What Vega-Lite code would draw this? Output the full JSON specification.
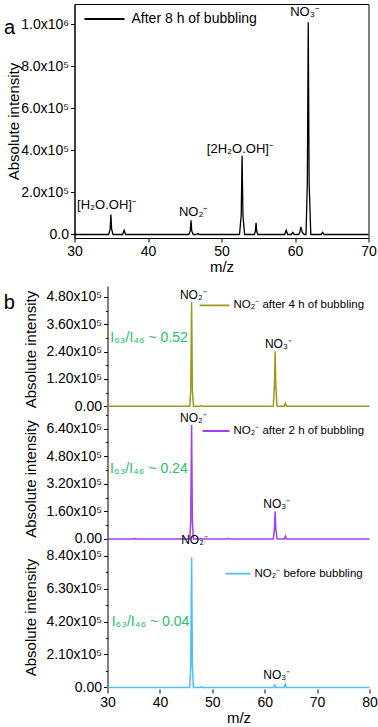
{
  "$schema": "https://vega.github.io/schema/vega-lite/v6.json",
  "padding": {"left": 2.5, "top": 3, "right": 0, "bottom": 0},
  "config": {
    "font": "Liberation Sans",
    "view": {"stroke": null},
    "axis": {"labelFont": "Liberation Sans", "titleFont": "Liberation Sans", "labelFontSize": 14, "titleFontSize": 15, "titleFontWeight": "normal", "labelColor": "#000", "titleColor": "#000", "domainColor": "#000", "tickColor": "#000", "grid": false, "tickSize": 4, "labelPadding": 2, "labelFlush": false, "labelOverlap": false, "labelBound": false},
    "legend": {"labelFont": "Liberation Sans", "labelColor": "#000", "padding": 0, "symbolType": "stroke", "clipHeight": 14},
    "text": {"font": "Liberation Sans", "color": "#000"}
  },
  "datasets": {
    "a": [
      {"mz": 30, "I": 0}, {"mz": 34.65, "I": 0}, {"mz": 34.85, "I": 25000}, {"mz": 34.95, "I": 95000}, {"mz": 35.05, "I": 25000}, {"mz": 35.25, "I": 0},
      {"mz": 36.55, "I": 0}, {"mz": 36.75, "I": 20000}, {"mz": 36.95, "I": 0},
      {"mz": 45.55, "I": 0}, {"mz": 45.75, "I": 17000}, {"mz": 45.85, "I": 68000}, {"mz": 45.95, "I": 17000}, {"mz": 46.15, "I": 0},
      {"mz": 46.6, "I": 0}, {"mz": 46.8, "I": 5000}, {"mz": 47.0, "I": 0},
      {"mz": 52.45, "I": 0}, {"mz": 52.68, "I": 90000}, {"mz": 52.8, "I": 374000}, {"mz": 52.92, "I": 90000}, {"mz": 53.15, "I": 0},
      {"mz": 54.45, "I": 0}, {"mz": 54.6, "I": 14000}, {"mz": 54.7, "I": 55000}, {"mz": 54.8, "I": 14000}, {"mz": 54.95, "I": 0},
      {"mz": 58.6, "I": 0}, {"mz": 58.8, "I": 20000}, {"mz": 59.0, "I": 0},
      {"mz": 59.5, "I": 0}, {"mz": 59.7, "I": 10000}, {"mz": 59.9, "I": 0},
      {"mz": 60.5, "I": 0}, {"mz": 60.65, "I": 10000}, {"mz": 60.8, "I": 36000}, {"mz": 61.0, "I": 10000}, {"mz": 61.25, "I": 0},
      {"mz": 61.5, "I": 0}, {"mz": 61.68, "I": 250000}, {"mz": 61.8, "I": 1010000}, {"mz": 61.92, "I": 250000}, {"mz": 62.15, "I": 0},
      {"mz": 63.55, "I": 0}, {"mz": 63.75, "I": 10000}, {"mz": 63.95, "I": 0},
      {"mz": 70, "I": 0}
    ],
    "b4": [
      {"mz": 30, "I": 0}, {"mz": 45.7, "I": 0}, {"mz": 45.88, "I": 70000}, {"mz": 46.05, "I": 458000}, {"mz": 46.2, "I": 70000}, {"mz": 46.4, "I": 0},
      {"mz": 47.6, "I": 0}, {"mz": 47.8, "I": 3000}, {"mz": 48.0, "I": 0},
      {"mz": 61.65, "I": 0}, {"mz": 61.85, "I": 90000}, {"mz": 62.0, "I": 242000}, {"mz": 62.12, "I": 90000}, {"mz": 62.35, "I": 0},
      {"mz": 63.75, "I": 0}, {"mz": 63.95, "I": 13000}, {"mz": 64.15, "I": 0},
      {"mz": 80, "I": 0}
    ],
    "b2": [
      {"mz": 30, "I": 0}, {"mz": 35.0, "I": 0}, {"mz": 35.2, "I": 3000}, {"mz": 35.4, "I": 0},
      {"mz": 45.7, "I": 0}, {"mz": 45.88, "I": 100000}, {"mz": 46.05, "I": 662000}, {"mz": 46.2, "I": 100000}, {"mz": 46.4, "I": 0},
      {"mz": 47.6, "I": 0}, {"mz": 47.8, "I": 3000}, {"mz": 48.0, "I": 0},
      {"mz": 52.8, "I": 0}, {"mz": 53.0, "I": 3000}, {"mz": 53.2, "I": 0},
      {"mz": 61.65, "I": 0}, {"mz": 61.85, "I": 60000}, {"mz": 62.0, "I": 161000}, {"mz": 62.12, "I": 60000}, {"mz": 62.35, "I": 0},
      {"mz": 63.75, "I": 0}, {"mz": 63.95, "I": 16000}, {"mz": 64.15, "I": 0},
      {"mz": 80, "I": 0}
    ],
    "b0": [
      {"mz": 30, "I": 0}, {"mz": 45.7, "I": 0}, {"mz": 45.88, "I": 130000}, {"mz": 46.05, "I": 830000}, {"mz": 46.2, "I": 130000}, {"mz": 46.4, "I": 0},
      {"mz": 47.6, "I": 0}, {"mz": 47.8, "I": 4000}, {"mz": 48.0, "I": 0},
      {"mz": 61.7, "I": 0}, {"mz": 61.9, "I": 15000}, {"mz": 62.1, "I": 0},
      {"mz": 63.7, "I": 0}, {"mz": 63.9, "I": 21000}, {"mz": 64.1, "I": 0},
      {"mz": 80, "I": 0}
    ]
  },
  "resolve": {"scale": {"color": "independent"}, "legend": {"color": "independent"}},
  "spacing": 11,
  "vconcat": [
    {
      "width": 294,
      "height": 234,
      "view": {"stroke": "#000", "strokeWidth": 1},
      "layer": [
        {
          "data": {"name": "a"},
          "mark": {"type": "line", "strokeWidth": 1.3},
          "encoding": {
            "x": {"field": "mz", "type": "quantitative", "scale": {"domain": [30, 70], "nice": false, "zero": false},
              "axis": {"title": "m/z", "values": [30, 35, 40, 45, 50, 55, 60, 65, 70], "labelExpr": "datum.value % 10 == 0 ? datum.label : ''", "labelOverlap": false, "tickSize": {"condition": {"test": "datum.value % 10 != 0", "value": 2}, "value": 4}, "titlePadding": 1}},
            "y": {"field": "I", "type": "quantitative", "scale": {"domain": [-16700, 1096600], "nice": false, "zero": false},
              "axis": {"title": "Absolute intensity", "titleX": -61, "titleBaseline": "middle", "values": [0, 100000, 200000, 300000, 400000, 500000, 600000, 700000, 800000, 900000, 1000000], "labelExpr": "datum.value == 0 ? '0.0' : (datum.value % 200000 != 0 ? '' : (datum.value >= 1000000 ? format(datum.value / 1000000, '.1f') + 'x10⁶' : format(datum.value / 100000, '.1f') + 'x10⁵'))", "labelOverlap": false, "tickSize": {"condition": {"test": "datum.value % 200000 != 0", "value": 2}, "value": 4}}},
            "color": {"datum": "After 8 h of bubbling", "scale": {"range": ["#000000"]},
              "legend": {"title": null, "orient": "none", "legendX": 9, "legendY": 8, "symbolSize": 1600, "symbolStrokeWidth": 1.8, "labelOffset": 6, "labelFontSize": 14}}
          }
        },
        {
          "data": {"values": [
            {"mz": 61.3, "I": 1040000, "t": "NO₃⁻"},
            {"mz": 52.5, "I": 389000, "t": "[2H₂O.OH]⁻"},
            {"mz": 46.15, "I": 88000, "t": "NO₂⁻"},
            {"mz": 34.35, "I": 120000, "t": "[H₂O.OH]⁻"}
          ]},
          "mark": {"type": "text", "fontSize": 13, "align": "center", "baseline": "alphabetic"},
          "encoding": {"x": {"field": "mz", "type": "quantitative"}, "y": {"field": "I", "type": "quantitative"}, "text": {"field": "t"}}
        },
        {
          "data": {"values": [{"mz": 21.16, "I": 954000, "t": "a"}]},
          "mark": {"type": "text", "fontSize": 20, "align": "center", "baseline": "alphabetic"},
          "encoding": {"x": {"field": "mz", "type": "quantitative"}, "y": {"field": "I", "type": "quantitative"}, "text": {"field": "t"}}
        }
      ]
    },
    {
      "spacing": 0,
      "bounds": "flush",
      "resolve": {"scale": {"color": "independent"}, "legend": {"color": "independent"}},
      "vconcat": [
        {
          "width": 295,
          "height": 126,
          "resolve": {"axis": {"y": "independent"}},
          "layer": [
            {
              "data": {"name": "b4"},
              "mark": {"type": "line", "strokeWidth": 1.5},
              "encoding": {
                "x": {"field": "mz", "type": "quantitative", "scale": {"domain": [23.7, 80], "nice": false, "zero": false}, "axis": null},
                "y": {"field": "I", "type": "quantitative", "scale": {"domain": [-25000, 528000], "nice": false, "zero": false},
                  "axis": {"orient": "left", "offset": -33, "title": "Absolute intensity", "titleX": -77, "titleBaseline": "middle", "values": [0, 120000, 240000, 360000, 480000], "labelExpr": "datum.value == 0 ? '0.00' : format(datum.value / 100000, '.2f') + 'x10⁵'", "labelOverlap": false}},
                "color": {"datum": "NO₂⁻ after 4 h of bubbling", "scale": {"range": ["#9b9a1e"]},
                  "legend": {"title": null, "orient": "none", "legendX": 124, "legendY": 12.3, "symbolSize": 900, "symbolStrokeWidth": 1.8, "labelOffset": 3, "labelFontSize": 11.5}}
              }
            },
            {"mark": {"type": "rule", "color": "#000", "strokeWidth": 1}, "encoding": {"x": {"datum": 80}}},
            {"mark": {"type": "rule", "color": "#000", "strokeWidth": 1}, "encoding": {"y": {"datum": 528000, "axis": null}, "x": {"datum": 30}, "x2": {"datum": 80}}},
            {
              "data": {"values": [
                {"mz": 46.37, "I": 473000, "t": "NO₂⁻"},
                {"mz": 62.6, "I": 256000, "t": "NO₃⁻"}
              ]},
              "mark": {"type": "text", "fontSize": 12, "align": "center", "baseline": "alphabetic"},
              "encoding": {"x": {"field": "mz", "type": "quantitative"},
                "y": {"field": "I", "type": "quantitative", "axis": {"orient": "left", "offset": -33, "values": [60000, 180000, 300000, 420000], "labels": false, "domain": false, "tickSize": 2, "title": null}},
                "text": {"field": "t"}}
            },
            {
              "data": {"values": [{"mz": 37.93, "I": 282000, "t": "I₆₃/I₄₆ ~ 0.52"}]},
              "mark": {"type": "text", "fontSize": 14, "align": "center", "baseline": "alphabetic", "color": "#26c06a"},
              "encoding": {"x": {"field": "mz", "type": "quantitative"}, "y": {"field": "I", "type": "quantitative", "axis": null}, "text": {"field": "t"}}
            },
            {
              "data": {"values": [{"mz": 11.27, "I": 429000, "t": "b"}]},
              "mark": {"type": "text", "fontSize": 20, "align": "center", "baseline": "alphabetic"},
              "encoding": {"x": {"field": "mz", "type": "quantitative"}, "y": {"field": "I", "type": "quantitative", "axis": null}, "text": {"field": "t"}}
            }
          ]
        },
        {
          "width": 295,
          "height": 133,
          "resolve": {"axis": {"y": "independent"}},
          "layer": [
            {
              "data": {"name": "b2"},
              "mark": {"type": "line", "strokeWidth": 1.5},
              "encoding": {
                "x": {"field": "mz", "type": "quantitative", "scale": {"domain": [23.7, 80], "nice": false, "zero": false}, "axis": null},
                "y": {"field": "I", "type": "quantitative", "scale": {"domain": [-35000, 737000], "nice": false, "zero": false},
                  "axis": {"orient": "left", "offset": -33, "title": "Absolute intensity", "titleX": -77, "titleBaseline": "middle", "values": [0, 160000, 320000, 480000, 640000], "labelExpr": "datum.value == 0 ? '0.00' : format(datum.value / 100000, '.2f') + 'x10⁵'", "labelOverlap": false}},
                "color": {"datum": "NO₂⁻ after 2 h of bubbling", "scale": {"range": ["#a040f0"]},
                  "legend": {"title": null, "orient": "none", "legendX": 127, "legendY": 12, "symbolSize": 729, "symbolStrokeWidth": 1.8, "labelOffset": 3, "labelFontSize": 11.5}}
              }
            },
            {"mark": {"type": "rule", "color": "#000", "strokeWidth": 1}, "encoding": {"x": {"datum": 80}}},
            {
              "data": {"values": [
                {"mz": 46.4, "I": 679000, "t": "NO₂⁻"},
                {"mz": 62.3, "I": 180000, "t": "NO₃⁻"}
              ]},
              "mark": {"type": "text", "fontSize": 12, "align": "center", "baseline": "alphabetic"},
              "encoding": {"x": {"field": "mz", "type": "quantitative"},
                "y": {"field": "I", "type": "quantitative", "axis": {"orient": "left", "offset": -33, "values": [80000, 240000, 400000, 560000, 720000], "labels": false, "domain": false, "tickSize": 2, "title": null}},
                "text": {"field": "t"}}
            },
            {
              "data": {"values": [{"mz": 37.9, "I": 385000, "t": "I₆₃/I₄₆ ~ 0.24"}]},
              "mark": {"type": "text", "fontSize": 14, "align": "center", "baseline": "alphabetic", "color": "#26c06a"},
              "encoding": {"x": {"field": "mz", "type": "quantitative"}, "y": {"field": "I", "type": "quantitative", "axis": null}, "text": {"field": "t"}}
            }
          ]
        },
        {
          "width": 295,
          "height": 144,
          "resolve": {"axis": {"y": "independent"}},
          "layer": [
            {
              "data": {"name": "b0"},
              "mark": {"type": "line", "strokeWidth": 1.5},
              "encoding": {
                "x": {"field": "mz", "type": "quantitative", "scale": {"domain": [23.7, 80], "nice": false, "zero": false},
                  "axis": {"title": "m/z", "titleX": 164, "domain": false, "values": [30, 35, 40, 45, 50, 55, 60, 65, 70, 75, 80], "labelExpr": "datum.value % 10 == 0 ? datum.label : ''", "labelOverlap": false, "tickSize": {"condition": {"test": "datum.value % 10 != 0", "value": 2}, "value": 4}, "titlePadding": 1}},
                "y": {"field": "I", "type": "quantitative", "scale": {"domain": [-10000, 908000], "nice": false, "zero": false},
                  "axis": {"orient": "left", "offset": -33, "title": "Absolute intensity", "titleX": -77, "titleBaseline": "middle", "values": [0, 210000, 420000, 630000, 840000], "labelExpr": "datum.value == 0 ? '0.00' : format(datum.value / 100000, '.2f') + 'x10⁵'", "labelOverlap": false}},
                "color": {"datum": "NO₂⁻ before bubbling", "scale": {"range": ["#4cc0f0"]},
                  "legend": {"title": null, "orient": "none", "legendX": 150, "legendY": 21.7, "symbolSize": 625, "symbolStrokeWidth": 1.8, "labelOffset": 3, "labelFontSize": 11.5}}
              }
            },
            {"mark": {"type": "rule", "color": "#000", "strokeWidth": 1}, "encoding": {"x": {"datum": 80}}},
            {"mark": {"type": "rule", "color": "#000", "strokeWidth": 1}, "encoding": {"y": {"datum": -10000, "axis": null}, "x": {"datum": 30}, "x2": {"datum": 80}}},
            {
              "data": {"values": [
                {"mz": 46.6, "I": 917000, "t": "NO₂⁻"},
                {"mz": 62.3, "I": 53000, "t": "NO₃⁻"}
              ]},
              "mark": {"type": "text", "fontSize": 12, "align": "center", "baseline": "alphabetic"},
              "encoding": {"x": {"field": "mz", "type": "quantitative"},
                "y": {"field": "I", "type": "quantitative", "axis": {"orient": "left", "offset": -33, "values": [105000, 315000, 525000, 735000], "labels": false, "domain": false, "tickSize": 2, "title": null}},
                "text": {"field": "t"}}
            },
            {
              "data": {"values": [{"mz": 38.2, "I": 393000, "t": "I₆₃/I₄₆ ~ 0.04"}]},
              "mark": {"type": "text", "fontSize": 14, "align": "center", "baseline": "alphabetic", "color": "#26c06a"},
              "encoding": {"x": {"field": "mz", "type": "quantitative"}, "y": {"field": "I", "type": "quantitative", "axis": null}, "text": {"field": "t"}}
            }
          ]
        }
      ]
    }
  ]
}
